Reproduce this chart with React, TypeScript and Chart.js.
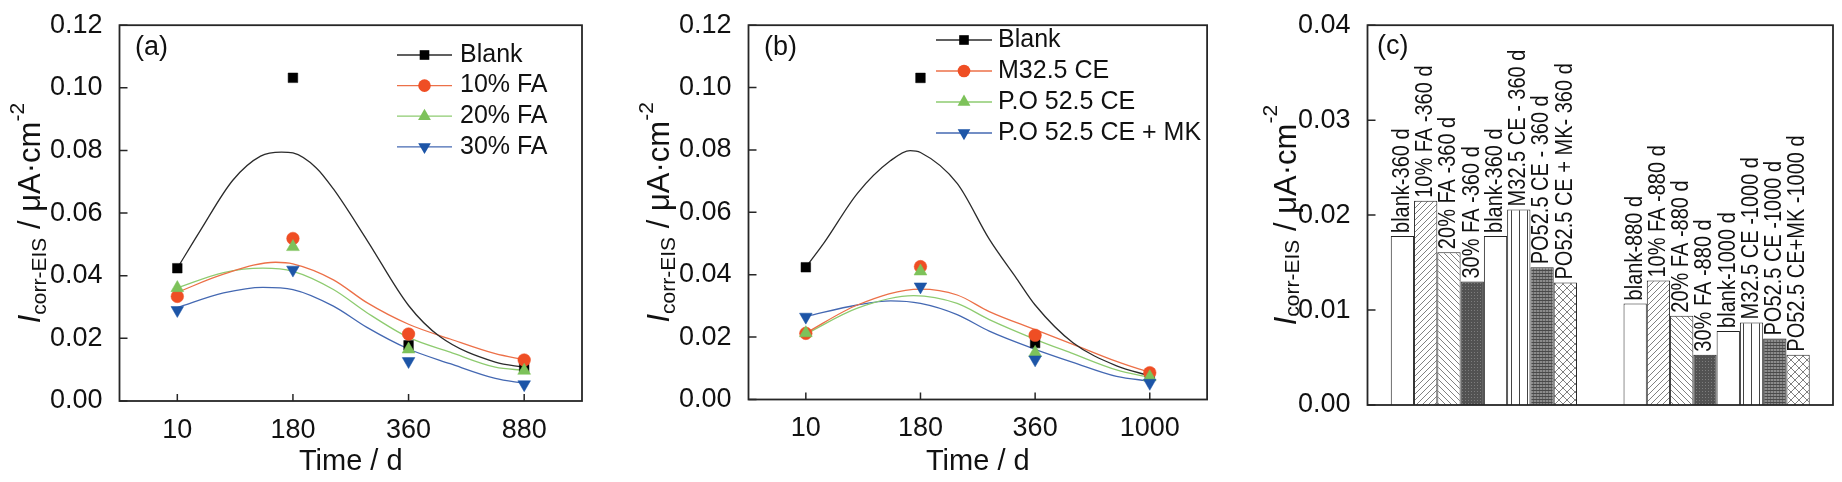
import { useEffect, useRef } from "react"
import { Chart, registerables } from "chart.js"
import type { ChartConfiguration, Plugin } from "chart.js"

Chart.register(...registerables)

const FONT = "'Liberation Sans', Arial, Helvetica, sans-serif"
Chart.defaults.font.family = FONT
Chart.defaults.color = "#111"

// ---------- (a) fly ash mixes ----------
const timeA = ["10", "180", "360", "880"]
const namesA = ["Blank", "10% FA", "20% FA", "30% FA"]
const blankA = [0.0424, 0.1032, 0.0178, 0.0107]
const fa10A = [0.0334, 0.0519, 0.0214, 0.0131]
const fa20A = [0.0361, 0.0492, 0.0165, 0.0097]
const fa30A = [0.029, 0.0419, 0.0127, 0.0053]

// fitted curves of (a): position on the time axis (0..3) and value
const blankFitXA = [0, 0.2, 0.48, 0.72, 0.9, 1.0, 1.2, 1.35, 1.64, 2.0, 2.27, 2.75, 3.0]
const blankFitA = [0.0424, 0.0545, 0.0705, 0.0782, 0.0795, 0.0792, 0.0745, 0.0677, 0.0514, 0.0305, 0.0206, 0.0124, 0.0108]
const fa10FitXA = [0, 0.4, 0.85, 1.0, 1.35, 1.64, 2.0, 2.36, 2.75, 3.0]
const fa10FitA = [0.0347, 0.0405, 0.0443, 0.0438, 0.0387, 0.0314, 0.0245, 0.0198, 0.0151, 0.0132]
const fa20FitXA = [0, 0.4, 0.74, 1.0, 1.35, 1.64, 2.0, 2.36, 2.75, 3.0]
const fa20FitA = [0.0361, 0.041, 0.0424, 0.0414, 0.0356, 0.0282, 0.0203, 0.0156, 0.0108, 0.0098]
const fa30FitXA = [0, 0.4, 0.74, 1.0, 1.35, 1.64, 2.0, 2.36, 2.75, 3.0]
const fa30FitA = [0.0298, 0.0345, 0.0363, 0.0356, 0.0303, 0.0235, 0.0166, 0.0119, 0.0072, 0.0056]

// ---------- (b) cement types ----------
const timeB = ["10", "180", "360", "1000"]
const namesB = ["Blank", "M32.5 CE", "P.O 52.5 CE", "P.O 52.5 CE + MK"]
const blankB = [0.0424, 0.1031, 0.0181, 0.0077]
const m325B = [0.0212, 0.0426, 0.0206, 0.0086]
const po525B = [0.0213, 0.0411, 0.015, 0.0072]
const po525mkB = [0.0265, 0.0362, 0.0128, 0.0053]

const blankFitXB = [0, 0.16, 0.45, 0.74, 0.91, 1.0, 1.32, 1.6, 1.84, 2.0, 2.33, 2.71, 3.0]
const blankFitB = [0.0424, 0.0503, 0.0661, 0.0766, 0.0798, 0.0792, 0.0693, 0.0514, 0.0387, 0.0303, 0.0182, 0.0108, 0.0076]
const m325FitXB = [0, 0.45, 1.0, 1.32, 1.6, 2.0, 2.33, 2.71, 3.0]
const m325FitB = [0.0213, 0.0303, 0.0354, 0.0335, 0.0282, 0.0224, 0.0177, 0.0122, 0.0087]
const po525FitXB = [0, 0.45, 0.94, 1.32, 1.6, 2.0, 2.33, 2.71, 3.0]
const po525FitB = [0.021, 0.0293, 0.0333, 0.0308, 0.0256, 0.0193, 0.0147, 0.0095, 0.0071]
const po525mkFitXB = [0, 0.45, 0.74, 1.0, 1.32, 1.6, 2.0, 2.33, 2.71, 3.0]
const po525mkFitB = [0.0266, 0.0303, 0.0316, 0.0308, 0.0272, 0.0219, 0.0161, 0.0119, 0.0074, 0.0059]

// ---------- (c) bars ----------
const barGroups = ["360 d", "880 d / 1000 d"]
const bars360 = [0.0178, 0.0215, 0.0161, 0.013, 0.0178, 0.0206, 0.0145, 0.0129]
const barsLate = [0.0107, 0.0131, 0.0094, 0.0053, 0.0078, 0.0087, 0.007, 0.0053]
const labels360 = [
	"blank-360 d",
	"10% FA -360 d",
	"20% FA -360 d",
	"30% FA -360 d",
	"blank-360 d",
	"M32.5 CE - 360 d",
	"PO52.5 CE - 360 d",
	"PO52.5 CE + MK- 360 d"
]
const labelsLate = [
	"blank-880 d",
	"10% FA -880 d",
	"20% FA -880 d",
	"30% FA -880 d",
	"blank-1000 d",
	"M32.5 CE -1000 d",
	"PO52.5 CE -1000 d",
	"PO52.5 CE+MK -1000 d"
]
const barPatterns = ["none", "fwd", "back", "dark", "none", "vert", "grid", "cross"]

// marker / line look shared by (a) and (b)
const marks = [
	{ style: "rect", rot: 0, radius: 6.8, fill: "#000000", line: "#2b2b2b" },
	{ style: "circle", rot: 0, radius: 6.3, fill: "#EF4E24", line: "#EC7048" },
	{ style: "triangle", rot: 0, radius: 7.4, fill: "#7DC25A", line: "#8ECB70" },
	{ style: "triangle", rot: 180, radius: 7.3, fill: "#1D55A7", line: "#4468B2" }
]

type Series = { label: string; values: number[]; fitX: number[]; fit: number[] }
type Box = { yWidth: number; xHeight: number; top: number; right: number }

function drawMarker(ctx: CanvasRenderingContext2D, i: number, x: number, y: number) {
	const m = marks[i]
	const r = m.radius
	ctx.fillStyle = m.fill
	ctx.beginPath()
	if (m.style === "rect") {
		const s = r * Math.SQRT1_2
		ctx.rect(x - s, y - s, 2 * s, 2 * s)
	} else if (m.style === "circle") {
		ctx.arc(x, y, r, 0, Math.PI * 2)
	} else {
		const d = m.rot ? -1 : 1
		ctx.moveTo(x, y - d * r)
		ctx.lineTo(x + 0.866 * r, y + d * 0.5 * r)
		ctx.lineTo(x - 0.866 * r, y + d * 0.5 * r)
		ctx.closePath()
	}
	ctx.fill()
}

// box with inward ticks, panel tag and axis titles
function decor(tag: string, tagX: number, tagY: number, xTitle: string | null, xTicks: boolean): Plugin {
	return {
		id: "decor" + tag,
		afterDatasetsDraw(chart) {
			const { ctx, chartArea: a } = chart
			ctx.save()
			ctx.strokeStyle = "#262626"
			ctx.lineWidth = 1.8
			ctx.strokeRect(a.left, a.top, a.right - a.left, a.bottom - a.top)
			ctx.lineWidth = 1.5
			const ys = chart.scales.y
			ctx.beginPath()
			ys.ticks.forEach((t) => {
				const py = ys.getPixelForValue(t.value)
				ctx.moveTo(a.left, py)
				ctx.lineTo(a.left + 8, py)
			})
			if (xTicks) {
				const xs = chart.scales.x
				xs.ticks.forEach((t) => {
					const px = xs.getPixelForValue(t.value)
					ctx.moveTo(px, a.bottom)
					ctx.lineTo(px, a.bottom - 7)
				})
			}
			ctx.stroke()

			ctx.fillStyle = "#111"
			ctx.font = `27px ${FONT}`
			ctx.textAlign = "left"
			ctx.textBaseline = "middle"
			ctx.fillText(tag, tagX, tagY)

			if (xTitle) {
				ctx.textAlign = "center"
				ctx.textBaseline = "alphabetic"
				ctx.font = `29px ${FONT}`
				ctx.fillText(xTitle, (a.left + a.right) / 2, 470)
			}

			const parts = [
				{ t: "I", f: `italic 31px ${FONT}`, dy: 0 },
				{ t: "corr-EIS", f: `21px ${FONT}`, dy: 6 },
				{ t: " / \u03BCA\u00B7cm", f: `31px ${FONT}`, dy: 0 },
				{ t: "-2", f: `21px ${FONT}`, dy: -16 }
			]
			let total = 0
			parts.forEach((p) => {
				ctx.font = p.f
				total += ctx.measureText(p.t).width
			})
			ctx.translate(a.left - 80, (a.top + a.bottom) / 2)
			ctx.rotate(-Math.PI / 2)
			ctx.textAlign = "left"
			let x = -total / 2
			parts.forEach((p) => {
				ctx.font = p.f
				ctx.fillText(p.t, x, p.dy)
				x += ctx.measureText(p.t).width
			})
			ctx.restore()
		}
	}
}

function lineLegend(id: string, names: string[], x: number, y: number, dy: number, len: number, gap: number): Plugin {
	return {
		id: "legend" + id,
		afterDraw(chart) {
			const ctx = chart.ctx
			ctx.save()
			names.forEach((name, i) => {
				const cy = y + i * dy
				ctx.strokeStyle = marks[i].line
				ctx.lineWidth = 1.3
				ctx.beginPath()
				ctx.moveTo(x, cy)
				ctx.lineTo(x + len, cy)
				ctx.stroke()
				drawMarker(ctx, i, x + len / 2, cy)
				ctx.fillStyle = "#111"
				ctx.font = `25px ${FONT}`
				ctx.textAlign = "left"
				ctx.textBaseline = "middle"
				ctx.fillText(name, x + len + gap, cy)
			})
			ctx.restore()
		}
	}
}

function lineConfig(times: string[], series: Series[], box: Box, plugins: Plugin[]): ChartConfiguration {
	return {
		type: "line",
		data: {
			datasets: [
				...series.map((s, i) => ({
					label: s.label + " fit",
					data: s.fitX.map((x, k) => ({ x, y: s.fit[k] })),
					borderColor: marks[i].line,
					borderWidth: 1.3,
					pointRadius: 0,
					cubicInterpolationMode: "monotone" as const,
					fill: false,
					order: 20
				})),
				...series.map((s, i) => ({
					label: s.label,
					data: s.values.map((y, k) => ({ x: k, y })),
					showLine: false,
					pointStyle: marks[i].style as any,
					pointRotation: marks[i].rot,
					pointRadius: marks[i].radius,
					pointBackgroundColor: marks[i].fill,
					pointBorderColor: marks[i].fill,
					pointBorderWidth: 0.5,
					order: 10 - i
				}))
			]
		},
		options: {
			animation: false,
			responsive: true,
			maintainAspectRatio: false,
			events: [],
			layout: { padding: { left: 0, top: box.top, right: box.right, bottom: 0 } },
			plugins: { legend: { display: false }, tooltip: { enabled: false } },
			scales: {
				x: {
					type: "linear",
					min: -0.5,
					max: 3.5,
					afterBuildTicks(scale) {
						scale.ticks = times.map((_, i) => ({ value: i }))
					},
					afterFit(scale) {
						scale.height = box.xHeight
					},
					grid: { display: false },
					border: { display: false },
					ticks: {
						autoSkip: false,
						maxRotation: 0,
						padding: 5,
						color: "#111",
						font: { size: 27 },
						callback(value) {
							return times[value as number] ?? ""
						}
					}
				},
				y: {
					min: 0,
					max: 0.12,
					afterFit(scale) {
						scale.width = box.yWidth
					},
					grid: { display: false },
					border: { display: false },
					ticks: {
						stepSize: 0.02,
						padding: 9,
						color: "#111",
						font: { size: 27 },
						callback(value) {
							return Number(value).toFixed(2)
						}
					}
				}
			}
		},
		plugins
	}
}

function makePattern(kind: string): CanvasPattern | string {
	if (kind === "none") return "#ffffff"
	const c = document.createElement("canvas")
	const g = c.getContext("2d") as CanvasRenderingContext2D
	const line = (x1: number, y1: number, x2: number, y2: number) => {
		g.beginPath()
		g.moveTo(x1, y1)
		g.lineTo(x2, y2)
		g.stroke()
	}
	if (kind === "fwd" || kind === "back" || kind === "cross") {
		const n = kind === "cross" ? 8 : 6
		c.width = n
		c.height = n
		g.fillStyle = "#fff"
		g.fillRect(0, 0, n, n)
		g.strokeStyle = "#555"
		g.lineWidth = 0.75
		if (kind !== "back") {
			line(-1, n + 1, n + 1, -1)
			line(-1, 1, 1, -1)
			line(n - 1, n + 1, n + 1, n - 1)
		}
		if (kind !== "fwd") {
			line(-1, -1, n + 1, n + 1)
			line(n - 1, -1, n + 1, 1)
			line(-1, n - 1, 1, n + 1)
		}
	} else if (kind === "vert") {
		c.width = 8
		c.height = 2
		g.fillStyle = "#fff"
		g.fillRect(0, 0, 8, 2)
		g.fillStyle = "#444"
		g.fillRect(0, 0, 1, 2)
	} else if (kind === "dark") {
		c.width = 3
		c.height = 3
		g.fillStyle = "#525252"
		g.fillRect(0, 0, 3, 3)
		g.fillStyle = "#7c7c7c"
		g.fillRect(1, 1, 1, 1)
	} else {
		c.width = 3
		c.height = 3
		g.fillStyle = "#8c8c8c"
		g.fillRect(0, 0, 3, 3)
		g.fillStyle = "#666"
		g.fillRect(0, 0, 1, 3)
		g.fillStyle = "#4a4a4a"
		g.fillRect(0, 0, 3, 1)
	}
	return g.createPattern(c, "repeat") as CanvasPattern
}

const barLabelPlugin: Plugin = {
	id: "barLabels",
	afterDatasetsDraw(chart) {
		const ctx = chart.ctx
		ctx.save()
		ctx.fillStyle = "#111"
		ctx.font = `23px ${FONT}`
		ctx.textAlign = "left"
		ctx.textBaseline = "middle"
		chart.data.datasets.forEach((_, i) => {
			chart.getDatasetMeta(i).data.forEach((el: any, j) => {
				const text = j === 0 ? labels360[i] : labelsLate[i]
				ctx.save()
				ctx.translate(el.x, el.y - 3)
				ctx.rotate(-Math.PI / 2)
				// the labels are set in a condensed face
				ctx.scale(0.87, 1)
				ctx.fillText(text, 0, 0)
				ctx.restore()
			})
		})
		ctx.restore()
	}
}

function barConfig(): ChartConfiguration {
	return {
		type: "bar",
		data: {
			labels: barGroups,
			datasets: labels360.map((label, i) => ({
				label,
				data: [bars360[i], barsLate[i]],
				backgroundColor: makePattern(barPatterns[i]) as any,
				borderColor: "#222",
				borderWidth: 1,
				barPercentage: 1,
				categoryPercentage: 0.8
			}))
		},
		options: {
			animation: false,
			responsive: true,
			maintainAspectRatio: false,
			events: [],
			layout: { padding: { left: 0, top: 19, right: 9, bottom: 0 } },
			plugins: { legend: { display: false }, tooltip: { enabled: false } },
			scales: {
				x: {
					afterFit(scale) {
						scale.height = 77
					},
					grid: { display: false },
					border: { display: false },
					ticks: { display: false }
				},
				y: {
					min: 0,
					max: 0.04,
					afterFit(scale) {
						scale.width = 152.5
					},
					grid: { display: false },
					border: { display: false },
					ticks: {
						stepSize: 0.01,
						padding: 9,
						color: "#111",
						font: { size: 27 },
						callback(value) {
							return Number(value).toFixed(2)
						}
					}
				}
			}
		},
		plugins: [barLabelPlugin, decor("(c)", 162, 47, null, false)]
	}
}

function ChartPanel({ left, width, make }: { left: number; width: number; make: () => ChartConfiguration }) {
	const canvasRef = useRef<HTMLCanvasElement>(null)

	useEffect(() => {
		const chart = new Chart(canvasRef.current as HTMLCanvasElement, make())
		return () => {
			chart.destroy()
		}
	}, [])

	return (
		<div style={{ position: "absolute", left, top: 0, width, height: 482 }}>
			<canvas ref={canvasRef} />
		</div>
	)
}

const seriesA: Series[] = [
	{ label: namesA[0], values: blankA, fitX: blankFitXA, fit: blankFitA },
	{ label: namesA[1], values: fa10A, fitX: fa10FitXA, fit: fa10FitA },
	{ label: namesA[2], values: fa20A, fitX: fa20FitXA, fit: fa20FitA },
	{ label: namesA[3], values: fa30A, fitX: fa30FitXA, fit: fa30FitA }
]

const seriesB: Series[] = [
	{ label: namesB[0], values: blankB, fitX: blankFitXB, fit: blankFitB },
	{ label: namesB[1], values: m325B, fitX: m325FitXB, fit: m325FitB },
	{ label: namesB[2], values: po525B, fitX: po525FitXB, fit: po525FitB },
	{ label: namesB[3], values: po525mkB, fitX: po525mkFitXB, fit: po525mkFitB }
]

export default function App() {
	return (
		<div style={{ position: "fixed", left: 0, top: 0, width: 1842, height: 482, background: "#fff" }}>
			<ChartPanel
				left={0}
				width={600}
				make={() =>
					lineConfig(timeA, seriesA, { yWidth: 119.5, xHeight: 81, top: 18, right: 18 }, [
						decor("(a)", 135, 48, "Time / d", true),
						lineLegend("a", namesA, 397, 55, 30.6, 55, 8)
					])
				}
			/>
			<ChartPanel
				left={600}
				width={615}
				make={() =>
					lineConfig(timeB, seriesB, { yWidth: 148.5, xHeight: 82.5, top: 18, right: 4 }, [
						decor("(b)", 164, 48, "Time / d", true),
						lineLegend("b", namesB, 336, 40, 31, 56, 6)
					])
				}
			/>
			<ChartPanel left={1215} width={627} make={barConfig} />
		</div>
	)
}
